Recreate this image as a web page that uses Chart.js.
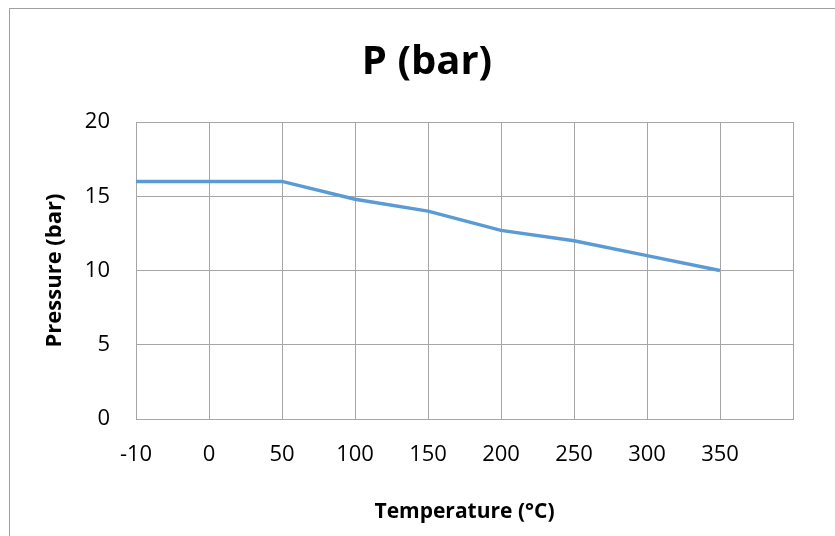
<!DOCTYPE html>
<html>
<head>
<meta charset="utf-8">
<script src="https://cdn.jsdelivr.net/npm/chart.js@4.4.0/dist/chart.umd.min.js"></script>
<style>
  html, body { margin: 0; padding: 0; background: #fff; overflow: hidden; }
  .frame {
    position: absolute; left: 9px; top: 8px;
    width: 834px; height: 540px;
    border: 1px solid #a0a0a0;
  }
  canvas { display: block; }
</style>
</head>
<body>
<div class="frame"><canvas id="myChart" width="834" height="540"></canvas></div>
<script>
const temps = ['-10', '0', '50', '100', '150', '200', '250', '300', '350', '']
const pressure = [16, 16, 16, 14.8, 14, 12.7, 12, 11, 10, null]
const yTicks = [0, 5, 10, 15, 20]

const font = '"Open Sans", Calibri, sans-serif'
const gridColor = '#a6a6a6'

const ctx = document.getElementById('myChart')

new Chart(ctx, {
  type: 'line',
  data: {
    labels: temps,
    datasets: [{
      label: 'P (bar)',
      data: pressure,
      borderColor: '#5b9bd5',
      borderWidth: 3.5,
      pointRadius: 0,
      tension: 0,
      fill: false
    }]
  },
  options: {
    responsive: false,
    animation: false,
    layout: { padding: 0 },
    plugins: {
      legend: { display: false },
      tooltip: { enabled: false },
      title: {
        display: true,
        text: 'P (bar)',
        color: '#000',
        font: { family: font, size: 40, weight: 'bold' },
        padding: { top: 30, bottom: 35 }
      }
    },
    scales: {
      x: {
        type: 'category',
        offset: false,
        grid: { color: gridColor, drawTicks: false, lineWidth: 1 },
        border: { color: gridColor },
        ticks: {
          color: '#000',
          font: { family: font, size: 22 },
          padding: 23,
          maxRotation: 0,
          autoSkip: false
        },
        title: {
          display: true,
          text: 'Temperature (°C)',
          color: '#000',
          font: { family: font, size: 21, weight: 'bold' },
          padding: { top: 24, bottom: 24 }
        },
        afterFit: scale => { scale.height = 130 }
      },
      y: {
        min: 0,
        max: 20,
        afterBuildTicks: scale => { scale.ticks = yTicks.map(v => ({ value: v })) },
        grid: { color: gridColor, drawTicks: false, lineWidth: 1 },
        border: { color: gridColor },
        ticks: {
          color: '#000',
          font: { family: font, size: 22 },
          padding: 26
        },
        title: {
          display: true,
          text: 'Pressure (bar)',
          color: '#000',
          font: { family: font, size: 22, weight: 'bold' },
          padding: { top: 32, bottom: 32 }
        },
        afterFit: scale => { scale.width = 126 }
      },
      // empty right margin so the title stays centred on the whole frame
      yRight: {
        position: 'right',
        min: 0,
        max: 20,
        grid: { display: false, drawTicks: false },
        border: { display: false },
        ticks: { display: false },
        afterFit: scale => { scale.width = 51 }
      }
    }
  }
})
</script>
</body>
</html>
